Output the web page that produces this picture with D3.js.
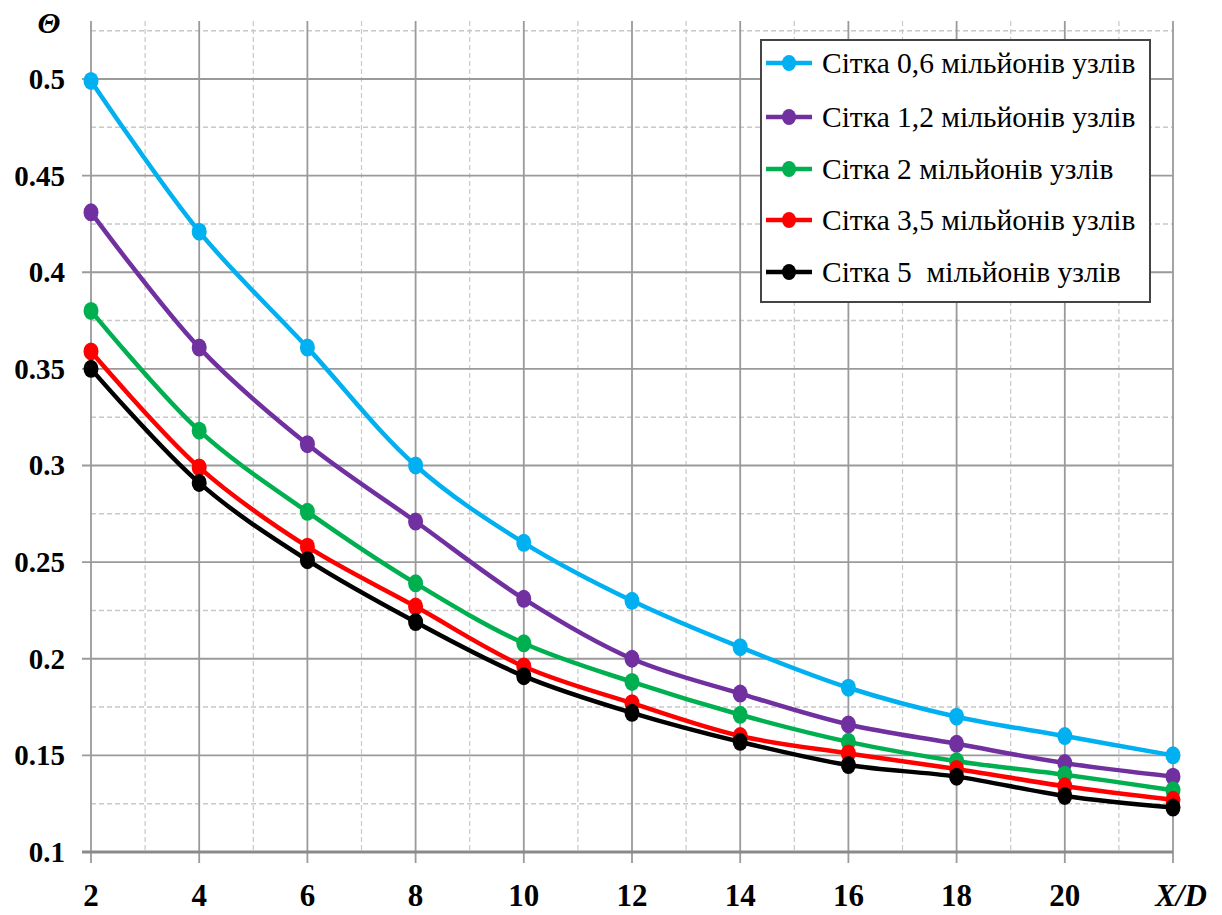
<!DOCTYPE html>
<html>
<head>
<meta charset="utf-8">
<script src="https://cdn.jsdelivr.net/npm/d3@7"></script>
<style>
  body { margin: 0; background: white; }
</style>
</head>
<body>
<svg id="chart" width="1222" height="915"></svg>
<script>
// data
const xValues = [2, 4, 6, 8, 10, 12, 14, 16, 18, 20, 22];
const mesh06 = [0.499, 0.421, 0.361, 0.300, 0.260, 0.230, 0.206, 0.185, 0.170, 0.160, 0.150];
const mesh12 = [0.431, 0.361, 0.311, 0.271, 0.231, 0.200, 0.182, 0.166, 0.156, 0.146, 0.139];
const mesh2  = [0.380, 0.318, 0.276, 0.239, 0.208, 0.188, 0.171, 0.157, 0.147, 0.140, 0.132];
const mesh35 = [0.359, 0.299, 0.258, 0.227, 0.196, 0.177, 0.160, 0.151, 0.143, 0.134, 0.127];
const mesh5  = [0.350, 0.291, 0.251, 0.219, 0.191, 0.172, 0.157, 0.145, 0.139, 0.129, 0.123];
const seriesNames = ["Сітка 0,6 мільйонів узлів", "Сітка 1,2 мільйонів узлів", "Сітка 2 мільйонів узлів",
                     "Сітка 3,5 мільйонів узлів", "Сітка 5  мільйонів узлів"];
const seriesColors = ["#00b0f0", "#7030a0", "#00b050", "#ff0000", "#000000"];
const xTickLabels = ["2", "4", "6", "8", "10", "12", "14", "16", "18", "20", "X/D"];
const yTicks = [0.1, 0.15, 0.2, 0.25, 0.3, 0.35, 0.4, 0.45, 0.5];

const allSeries = [mesh06, mesh12, mesh2, mesh35, mesh5];
const serif = "'Liberation Serif', 'DejaVu Serif', 'Times New Roman', serif";

const svg = d3.select("svg#chart");
const x = d3.scaleLinear().domain([2, 22]).range([91, 1173]);
const y = d3.scaleLinear().domain([0.1, 0.53]).range([852, 21]);

//grid: minor dashed lines first, then the solid major ones
const grid = svg.append("g").attr("id", "grid");
const minorX = d3.range(3, 22, 2);
const minorY = d3.range(0.125, 0.53, 0.05);
grid.selectAll("line.minorX").data(minorX).enter().append("line")
  .attr("x1", d => x(d)).attr("x2", d => x(d)).attr("y1", y(0.53)).attr("y2", y(0.1))
  .style("stroke", "#c8c8c8").style("stroke-width", 1.2).style("stroke-dasharray", "5,3");
grid.selectAll("line.minorY").data(minorY).enter().append("line")
  .attr("x1", x(2)).attr("x2", x(22)).attr("y1", d => y(d)).attr("y2", d => y(d))
  .style("stroke", "#c8c8c8").style("stroke-width", 1.5).style("stroke-dasharray", "5,3");
grid.selectAll("line.majorX").data(xValues).enter().append("line")
  .attr("x1", d => x(d)).attr("x2", d => x(d)).attr("y1", y(0.53)).attr("y2", y(0.1) + 11)
  .style("stroke", "#9a9a9a").style("stroke-width", 1.8);
grid.selectAll("line.majorY").data(yTicks.slice(1)).enter().append("line")
  .attr("x1", x(2) - 9).attr("x2", x(22)).attr("y1", d => y(d)).attr("y2", d => y(d))
  .style("stroke", "#9a9a9a").style("stroke-width", 1.8);
//bottom axis line
grid.append("line").attr("x1", x(2) - 9).attr("x2", x(22)).attr("y1", y(0.1)).attr("y2", y(0.1))
  .style("stroke", "#8a8a8a").style("stroke-width", 3);

//tick labels
svg.append("g").selectAll("text").data(yTicks).enter().append("text")
  .attr("x", 65).attr("y", d => y(d) + 10)
  .attr("text-anchor", "end")
  .style("font-family", serif).style("font-weight", "bold").style("font-size", "29px")
  .text(d => String(d));
svg.append("g").selectAll("text").data(xValues).enter().append("text")
  .attr("x", (d, i) => i === 10 ? x(d) + 8 : x(d)).attr("y", 906)
  .attr("text-anchor", "middle")
  .style("font-family", serif).style("font-weight", "bold").style("font-size", "31px")
  .style("font-style", (d, i) => i === 10 ? "italic" : "normal")
  .text((d, i) => xTickLabels[i]);
svg.append("text").attr("x", 49).attr("y", 33)
  .attr("text-anchor", "middle")
  .style("font-family", serif).style("font-weight", "bold").style("font-size", "30px").style("font-style", "italic")
  .text("Θ");

//curves
const line = d3.line().x(d => x(d[0])).y(d => y(d[1])).curve(d3.curveCatmullRom.alpha(0.5));
allSeries.forEach(function(vals, i){
  const pts = xValues.map((xv, j) => [xv, vals[j]]);
  const g = svg.append("g").attr("class", "series");
  g.append("path").attr("d", line(pts))
    .style("fill", "none").style("stroke", seriesColors[i]).style("stroke-width", 4.5);
  g.selectAll("ellipse").data(pts).enter().append("ellipse")
    .attr("cx", d => x(d[0])).attr("cy", d => y(d[1])).attr("rx", 7.5).attr("ry", 9)
    .style("fill", seriesColors[i]);
});

//legend
const legend = svg.append("g").attr("id", "legend");
legend.append("rect").attr("x", 761).attr("y", 40).attr("width", 389).attr("height", 262)
  .style("fill", "white").style("stroke", "#444").style("stroke-width", 2);
const legendRows = [63, 117, 169, 220, 272];
seriesNames.forEach(function(name, i){
  const ly = legendRows[i];
  legend.append("line").attr("x1", 766).attr("x2", 812).attr("y1", ly).attr("y2", ly)
    .style("stroke", seriesColors[i]).style("stroke-width", 4.5);
  legend.append("ellipse").attr("cx", 789).attr("cy", ly).attr("rx", 7).attr("ry", 8)
    .style("fill", seriesColors[i]);
  legend.append("text").attr("x", 822).attr("y", ly + 10)
    .style("font-family", serif).style("font-size", "29.5px").style("white-space", "pre")
    .text(name);
});
</script>
</body>
</html>
